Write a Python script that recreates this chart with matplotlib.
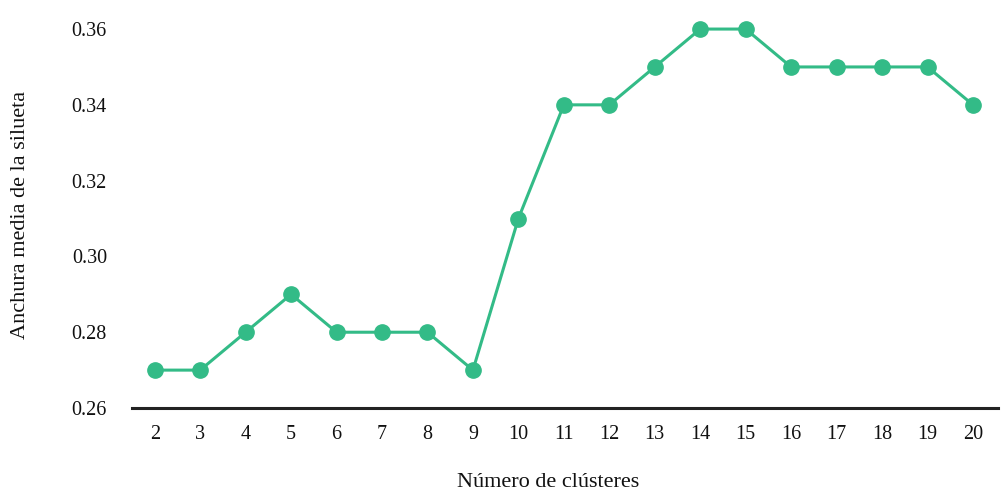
import matplotlib
matplotlib.use("Agg")
import matplotlib.pyplot as plt

# number of clusters vs mean silhouette width
clusters = [2, 3, 4, 5, 6, 7, 8, 9, 10, 11, 12, 13, 14, 15, 16, 17, 18, 19, 20]
silhouette = [0.27, 0.27, 0.28, 0.29, 0.28, 0.28, 0.28, 0.27, 0.31, 0.34,
              0.34, 0.35, 0.36, 0.36, 0.35, 0.35, 0.35, 0.35, 0.34]
yticks = [0.26, 0.28, 0.30, 0.32, 0.34, 0.36]

plt.rcParams["font.family"] = ["Liberation Serif", "DejaVu Serif"]

fig = plt.figure(figsize=(10.03, 4.98), dpi=100)
ax = fig.add_axes([0.1316, 0.1807, 0.8634, 0.799])

ax.plot(clusters, silhouette, color="#33bb87", linewidth=2.2,
        marker="o", markersize=11, clip_on=False)

ax.set_xlim(1.5, 20.55)
ax.set_ylim(0.26, 0.365)
ax.set_xticks(clusters)
ax.set_yticks(yticks)
ax.set_yticklabels([f"{v:.2f}" for v in yticks])

for side in ["top", "right", "left"]:
    ax.spines[side].set_visible(False)
ax.spines["bottom"].set_color("#222222")
ax.spines["bottom"].set_linewidth(2.2)

ax.tick_params(axis="both", length=0, labelsize=14.5, colors="#111111")
ax.tick_params(axis="x", pad=12)
ax.tick_params(axis="y", pad=18)

ax.set_xlabel("Número de clústeres", fontsize=16, color="#111111")
ax.set_ylabel("Anchura media de la silueta", fontsize=16, color="#111111")
ax.xaxis.set_label_coords(0.48, -0.188)
ax.yaxis.set_label_coords(-0.129, 0.485)
ax.xaxis.label.set_va("center")
ax.yaxis.label.set_va("center")

plt.savefig("out.png", dpi=100)
